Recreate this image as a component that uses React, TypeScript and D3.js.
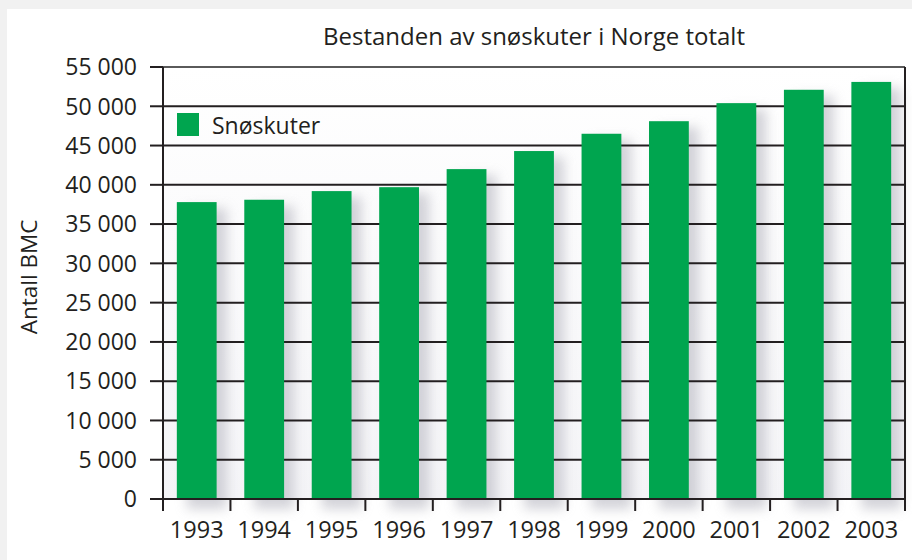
import * as d3 from "d3";
import React from "react";

const years = ["1993", "1994", "1995", "1996", "1997", "1998", "1999", "2000", "2001", "2002", "2003"];
const snoskuter = [37800, 38100, 39200, 39700, 42000, 44300, 46500, 48100, 50400, 52100, 53100];
const yTicks = [0, 5000, 10000, 15000, 20000, 25000, 30000, 35000, 40000, 45000, 50000, 55000];

const W = 912;
const H = 560;
const margin = { top: 67, right: 7, bottom: 61, left: 163 };
const FONT = "'Open Sans', 'Noto Sans', sans-serif";

export default function App() {
  const plotW = W - margin.left - margin.right;
  const plotH = H - margin.top - margin.bottom;

  // x: kategorier (år)
  const x = d3.scaleBand().domain(years).range([0, plotW]).paddingInner(0.41).paddingOuter(0.205);
  const band = d3.scaleBand().domain(years).range([0, plotW]);
  // y: antall
  const y = d3.scaleLinear().domain([0, 55000]).range([plotH, 0]);
  const fmt = (v: number) => d3.format(",")(v).replace(/,/g, " ");

  return (
    <svg width={W} height={H} style={{ position: "absolute", left: 0, top: 0 }} fontFamily={FONT}>
      <defs>
        <filter id="shadow" x="-50%" y="-10%" width="200%" height="130%">
          <feGaussianBlur stdDeviation="6" />
        </filter>
        <linearGradient id="bg" x1="0" y1="0" x2="0" y2="1">
          <stop offset="0" stopColor="#ffffff" />
          <stop offset="1" stopColor="#f4f4f7" />
        </linearGradient>
      </defs>
      <rect width={W} height={H} fill="#f1f1f1" />
      <rect x={7} y={9} width={W - 7} height={H - 9} fill="#ffffff" />

      <text x={534} y={45} textAnchor="middle" fontSize={24} fill="#231f20">
        Bestanden av snøskuter i Norge totalt
      </text>

      <text
        transform={`translate(37,${277}) rotate(-90)`}
        textAnchor="middle"
        fontSize={22.5}
        fill="#231f20"
      >
        Antall BMC
      </text>

      <g transform={`translate(${margin.left},${margin.top})`}>
        <rect width={plotW} height={plotH} fill="url(#bg)" />

        {/* skygger */}
        {years.map((yr, i) => (
          <rect
            key={"s" + yr}
            x={(x(yr) as number) + 10}
            y={y(snoskuter[i]) + 6}
            width={x.bandwidth()}
            height={plotH - y(snoskuter[i]) + 4}
            fill="#c4c4cc"
            opacity={0.75}
            filter="url(#shadow)"
          />
        ))}

        {/* rutenett */}
        {yTicks.slice(1).map((t) => (
          <line key={"g" + t} x1={0} x2={plotW} y1={y(t)} y2={y(t)} stroke="#231f20" strokeWidth={2} />
        ))}

        {years.map((yr, i) => (
          <rect
            key={yr}
            x={x(yr)}
            y={y(snoskuter[i])}
            width={x.bandwidth()}
            height={plotH - y(snoskuter[i])}
            fill="#00a54f"
          />
        ))}

        {/* ramme */}
        <line x1={0} x2={plotW} y1={0} y2={0} stroke="#5a5a5a" strokeWidth={2} />
        <line x1={plotW} x2={plotW} y1={0} y2={plotH} stroke="#231f20" strokeWidth={2} />
        <line x1={0} x2={0} y1={0} y2={plotH + 12} stroke="#231f20" strokeWidth={2} />
        <line x1={-13} x2={plotW} y1={plotH} y2={plotH} stroke="#231f20" strokeWidth={2} />

        {/* y-akse */}
        {yTicks.map((t) => (
          <g key={"y" + t} transform={`translate(0,${y(t)})`}>
            <line x1={-13} x2={0} stroke="#231f20" strokeWidth={2} />
            <text x={-26} dy="0.36em" textAnchor="end" fontSize={23} fill="#231f20">
              {fmt(t)}
            </text>
          </g>
        ))}

        {/* x-akse */}
        {years.map((yr) => (
          <line
            key={"xt" + yr}
            x1={(band(yr) as number) + band.bandwidth()}
            x2={(band(yr) as number) + band.bandwidth()}
            y1={plotH}
            y2={plotH + 12}
            stroke="#231f20"
            strokeWidth={2}
          />
        ))}
        {years.map((yr) => (
          <text
            key={"xl" + yr}
            x={(band(yr) as number) + band.bandwidth() / 2}
            y={plotH + 39}
            textAnchor="middle"
            fontSize={23.5}
            fill="#231f20"
          >
            {yr}
          </text>
        ))}

        {/* tegnforklaring */}
        <rect x={14} y={46} width={22} height={23} fill="#00a54f" />
        <text x={49} y={67} fontSize={23} fill="#231f20">
          Snøskuter
        </text>
      </g>
    </svg>
  );
}
